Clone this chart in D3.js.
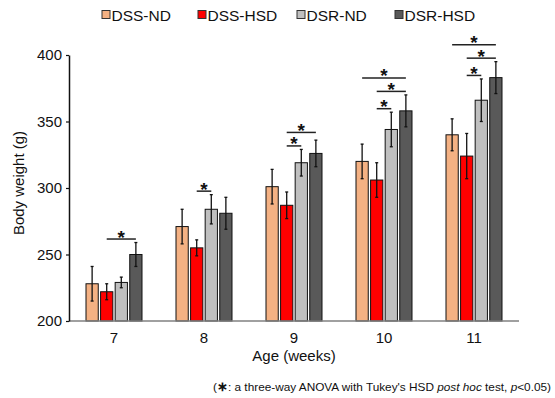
<!DOCTYPE html>
<html>
<head>
<meta charset="utf-8">
<script src="https://cdn.jsdelivr.net/npm/d3@7"></script>
<style>
  body { margin: 0; background: #fff; }
  svg { font-family: "Liberation Sans", Arial, sans-serif; }
</style>
</head>
<body>
<svg id="chart" width="555" height="398"></svg>
<script>
// data
var weeks = ["7", "8", "9", "10", "11"];
var groups = ["DSS-ND", "DSS-HSD", "DSR-ND", "DSR-HSD"];
var colors = ["#f4b183", "#ff0000", "#bfbfbf", "#595959"];

var dssNdMean = [228, 271, 301, 320, 340];
var dssHsdMean = [222, 255, 287, 306, 324];
var dsrNdMean = [229, 284, 319, 344, 366];
var dsrHsdMean = [250, 281, 326, 358, 383];

var dssNdErr = [13, 13, 13, 13, 12];
var dssHsdErr = [6, 6, 10, 13, 17];
var dsrNdErr = [4, 11, 10, 13, 16];
var dsrHsdErr = [9, 12, 10, 12, 12];

var yTicks = [200, 250, 300, 350, 400];

// significance brackets: [week, from group, to group]
var sigPairs = [
    ["7", 1, 3],
    ["8", 1, 2],
    ["9", 1, 2], ["9", 1, 3],
    ["10", 1, 2], ["10", 1, 3], ["10", 0, 3],
    ["11", 1, 2], ["11", 1, 3], ["11", 0, 3]
];

var means = [dssNdMean, dssHsdMean, dsrNdMean, dsrHsdMean];
var errs = [dssNdErr, dssHsdErr, dsrNdErr, dsrHsdErr];

var svg = d3.select("#chart");

var x = d3.scaleBand().domain(weeks).range([69, 519]);
var xSub = d3.scaleBand().domain(groups).range([-28, 28]).paddingInner(0.16);
var y = d3.scaleLinear().domain([200, 400]).range([321, 55]);

function barCenter(w, g) {
    return x(w) + x.bandwidth() / 2 + xSub(groups[g]) + xSub.bandwidth() / 2;
}

// rows: one per bar
var rows = [];
weeks.forEach(function (w, i) {
    groups.forEach(function (g, j) {
        rows.push({ week: w, gi: j, mean: means[j][i], err: errs[j][i] });
    });
});

// bars
svg.append("g")
    .selectAll("rect")
    .data(rows)
    .enter()
    .append("rect")
    .attr("x", function (d) { return x(d.week) + x.bandwidth() / 2 + xSub(groups[d.gi]); })
    .attr("y", function (d) { return y(d.mean); })
    .attr("width", xSub.bandwidth())
    .attr("height", function (d) { return y(200) - y(d.mean); })
    .attr("fill", function (d) { return colors[d.gi]; })
    .attr("stroke", "#111")
    .attr("stroke-width", 1);

// error bars
var eb = svg.append("g").attr("stroke", "#111").attr("stroke-width", 1.3);
rows.forEach(function (d) {
    var cx = barCenter(d.week, d.gi);
    eb.append("line")
        .attr("x1", cx).attr("x2", cx)
        .attr("y1", y(d.mean + d.err)).attr("y2", y(d.mean - d.err));
    [d.mean + d.err, d.mean - d.err].forEach(function (v) {
        eb.append("line")
            .attr("x1", cx - 1.5).attr("x2", cx + 1.5)
            .attr("y1", y(v)).attr("y2", y(v));
    });
});

// x axis baseline
svg.append("line")
    .attr("x1", 69).attr("x2", 519)
    .attr("y1", y(200)).attr("y2", y(200))
    .attr("stroke", "#808080")
    .attr("stroke-width", 1.5);

svg.append("g")
    .selectAll("text")
    .data(weeks)
    .enter()
    .append("text")
    .attr("x", function (d) { return x(d) + x.bandwidth() / 2; })
    .attr("y", 343)
    .attr("text-anchor", "middle")
    .attr("font-size", "15px")
    .attr("fill", "#111")
    .text(function (d) { return d; });

// y axis
var yAxis = svg.append("g")
    .attr("transform", "translate(69,0)")
    .call(d3.axisLeft(y).tickValues(yTicks).tickSize(3).tickSizeOuter(0).tickPadding(4));
yAxis.select(".domain").attr("stroke", "#111").attr("stroke-width", 1.5);
yAxis.selectAll(".tick line").attr("stroke", "#111").attr("stroke-width", 1.2);
yAxis.selectAll(".tick text")
    .attr("font-size", "15px")
    .attr("font-family", "Liberation Sans, Arial, sans-serif")
    .attr("fill", "#111");

// axis titles
svg.append("text")
    .attr("transform", "translate(24,183) rotate(-90)")
    .attr("text-anchor", "middle")
    .attr("font-size", "15px")
    .attr("fill", "#111")
    .text("Body weight (g)");

svg.append("text")
    .attr("x", 294)
    .attr("y", 361)
    .attr("text-anchor", "middle")
    .attr("font-size", "15px")
    .attr("fill", "#111")
    .text("Age (weeks)");

// significance brackets
var lastLine = {};
sigPairs.forEach(function (p) {
    var w = p[0], i = weeks.indexOf(w), a = p[1], b = p[2];
    var top = 999;
    for (var g = a; g <= b; g++) {
        top = Math.min(top, y(means[g][i] + errs[g][i]));
    }
    var ly = top - 3.5;
    if (lastLine[w] !== undefined) ly = Math.min(ly, lastLine[w] - 13.5);
    lastLine[w] = ly;
    var x1 = barCenter(w, a), x2 = barCenter(w, b);
    svg.append("line")
        .attr("x1", x1).attr("x2", x2)
        .attr("y1", ly).attr("y2", ly)
        .attr("stroke", "#222")
        .attr("stroke-width", 1.5);
    svg.append("text")
        .attr("x", (x1 + x2) / 2)
        .attr("y", ly + 4.5)
        .attr("text-anchor", "middle")
        .attr("font-size", "19px")
        .attr("font-weight", "bold")
        .attr("fill", "#111")
        .text("*");
});

// legend
var legendX = [102, 198, 297, 395];
var legend = svg.append("g");
groups.forEach(function (g, j) {
    legend.append("rect")
        .attr("x", legendX[j]).attr("y", 10.5)
        .attr("width", 8).attr("height", 8)
        .attr("fill", colors[j])
        .attr("stroke", "#333")
        .attr("stroke-width", 1);
    legend.append("text")
        .attr("x", legendX[j] + 9.5)
        .attr("y", 20.5)
        .attr("font-size", "15.5px")
        .attr("fill", "#111")
        .text(g);
});

// footnote
var note = svg.append("text")
    .attr("x", 551)
    .attr("y", 391)
    .attr("text-anchor", "end")
    .attr("font-size", "11.8px")
    .attr("fill", "#111");
note.append("tspan").text("(");
note.append("tspan").attr("font-weight", "bold").attr("font-size", "13px").text("\u2217");
note.append("tspan").text(": a three-way ANOVA with Tukey's HSD ");
note.append("tspan").attr("font-style", "italic").text("post hoc");
note.append("tspan").text(" test, ");
note.append("tspan").attr("font-style", "italic").text("p");
note.append("tspan").text("<0.05)");
</script>
</body>
</html>
